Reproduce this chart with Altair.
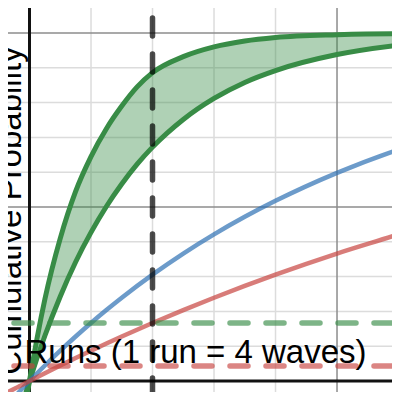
import altair as alt
import pandas as pd

# ---- data ----
xs = [-0.35, -0.15, -0.1, -0.06, 0, 0.25, 0.5, 0.75, 1, 1.25, 1.5, 2, 2.5, 3, 3.5, 4, 5, 6, 6.1]
blue = [-0.066, -0.028, -0.018, -0.011, 0, 0.0446, 0.0871, 0.1278, 0.1667, 0.2038, 0.2393, 0.3056,
        0.3661, 0.4213, 0.4717, 0.5177, 0.5981, 0.6651, 0.671]
red = [-0.032, -0.0138, -0.009, -0.0055, 0, 0.0225, 0.0446, 0.0661, 0.0871, 0.1077, 0.1278, 0.1667,
       0.2038, 0.2393, 0.2732, 0.3056, 0.3661, 0.4213, 0.427]

gx_upper = [-0.08, -0.06, 0, 0.25, 0.5, 0.75, 1, 1.25, 1.5, 1.75, 2, 2.5, 3, 3.5, 4, 5, 6, 6.1]
g_upper = [-0.09, -0.065, 0, 0.235, 0.41, 0.545, 0.645, 0.725, 0.79, 0.845, 0.886, 0.932, 0.96,
           0.977, 0.987, 0.995, 0.998, 0.998]
gx_lower = [-0.15, -0.1, 0, 0.25, 0.5, 0.75, 1, 1.25, 1.5, 1.75, 2, 2.5, 3, 3.5, 4, 5, 6, 6.1]
g_lower = [-0.087, -0.057, 0, 0.13, 0.243, 0.342, 0.427, 0.5015, 0.566, 0.623, 0.672, 0.7515, 0.812,
           0.858, 0.892, 0.938, 0.965, 0.967]

fill_x = [0, 0.25, 0.5, 0.75, 1, 1.25, 1.5, 1.75, 2, 2.5, 3, 3.5, 4, 5, 6, 6.1]
fill_hi = [0, 0.235, 0.41, 0.545, 0.645, 0.725, 0.79, 0.845, 0.886, 0.932, 0.96, 0.977, 0.987, 0.995,
           0.998, 0.998]
fill_lo = [0, 0.13, 0.243, 0.342, 0.427, 0.5015, 0.566, 0.623, 0.672, 0.7515, 0.812, 0.858, 0.892,
           0.938, 0.965, 0.967]

green_level = [1 / 6]
red_level = [0.043]
vline_x = [2]

minor_x = [1, 2, 3, 4, 6]
minor_y = [0.1, 0.2, 0.3, 0.4, 0.6, 0.7, 0.8, 0.9]
major_x = [5]
major_y = [0.5, 1.0]
axis_x = [0]
axis_y = [0]

x_title = "Runs (1 run = 4 waves)"
y_title = "Cumulative Probability"

# ---- scales ----
W, H = 384, 384
xsc = alt.Scale(domain=[-0.3496, 5.894], nice=False, zero=False)
ysc = alt.Scale(domain=[-0.0316, 1.0718], nice=False, zero=False)
GREEN, BLUE, RED = "#388c46", "#2d70b3", "#c74440"


def vrules(vals, **kw):
    return alt.Chart(pd.DataFrame({"v": vals})).mark_rule(**kw).encode(
        x=alt.X("v:Q", scale=xsc, axis=None))


def hrules(vals, **kw):
    return alt.Chart(pd.DataFrame({"v": vals})).mark_rule(**kw).encode(
        y=alt.Y("v:Q", scale=ysc, axis=None))


grid = alt.layer(
    vrules(minor_x, color="#dcdcdc", strokeWidth=1.5),
    hrules(minor_y, color="#dcdcdc", strokeWidth=1.5),
    vrules(major_x, color="#8c8c8c", strokeWidth=1.5),
    hrules(major_y, color="#8c8c8c", strokeWidth=1.5),
    vrules(axis_x, color="#111111", strokeWidth=3),
    hrules(axis_y, color="#111111", strokeWidth=3),
)

area = alt.Chart(pd.DataFrame({"x": fill_x, "hi": fill_hi, "lo": fill_lo})).mark_area(
    color=GREEN, opacity=0.4, interpolate="monotone", clip=True).encode(
    x=alt.X("x:Q", scale=xsc, axis=None),
    y=alt.Y("hi:Q", scale=ysc, axis=None),
    y2="lo:Q")


def curve(xv, yv, color, width, opacity):
    return alt.Chart(pd.DataFrame({"x": xv, "y": yv})).mark_line(
        color=color, strokeWidth=width, opacity=opacity, interpolate="monotone",
        clip=True, strokeCap="round").encode(
        x=alt.X("x:Q", scale=xsc, axis=None),
        y=alt.Y("y:Q", scale=ysc, axis=None))


dash_green = hrules(green_level, color=GREEN, opacity=0.65, strokeWidth=5.5,
                    strokeDash=[18, 18], strokeCap="round", strokeDashOffset=0)
dash_red = hrules(red_level, color=RED, opacity=0.65, strokeWidth=5.5,
                  strokeDash=[18, 18], strokeCap="round", strokeDashOffset=0)
dash_black = alt.Chart(pd.DataFrame({"v": vline_x})).mark_rule(
    color="#000000", opacity=0.7, strokeWidth=5.5, strokeDash=[18, 18],
    strokeCap="round", strokeDashOffset=26).encode(
    x=alt.X("v:Q", scale=xsc, axis=None),
    y=alt.value(0), y2=alt.value(H))

title_src = pd.DataFrame({"t": [x_title]})
xt = alt.Chart(title_src).mark_text(
    font="Liberation Sans", fontSize=33, color="#000000", align="center",
    baseline="alphabetic").encode(
    text="t:N", x=alt.value(187.5), y=alt.value(355))
yt = alt.Chart(pd.DataFrame({"t": [y_title]})).mark_text(
    font="Liberation Sans", fontSize=33, color="#000000", align="center",
    baseline="alphabetic", angle=270).encode(
    text="t:N", x=alt.value(13), y=alt.value(202.5))

chart = alt.layer(
    grid,
    area,
    curve(gx_upper, g_upper, GREEN, 5, 1),
    curve(gx_lower, g_lower, GREEN, 5, 1),
    curve(xs, blue, BLUE, 4.5, 0.7),
    curve(xs, red, RED, 4.5, 0.7),
    dash_green, dash_red, dash_black,
    xt, yt,
).properties(
    width=W, height=H, padding=0, autosize=alt.AutoSizeParams(type="none"),
).configure_view(stroke=None)

chart.save("out.html", embed_options={"renderer": "svg", "actions": False})
